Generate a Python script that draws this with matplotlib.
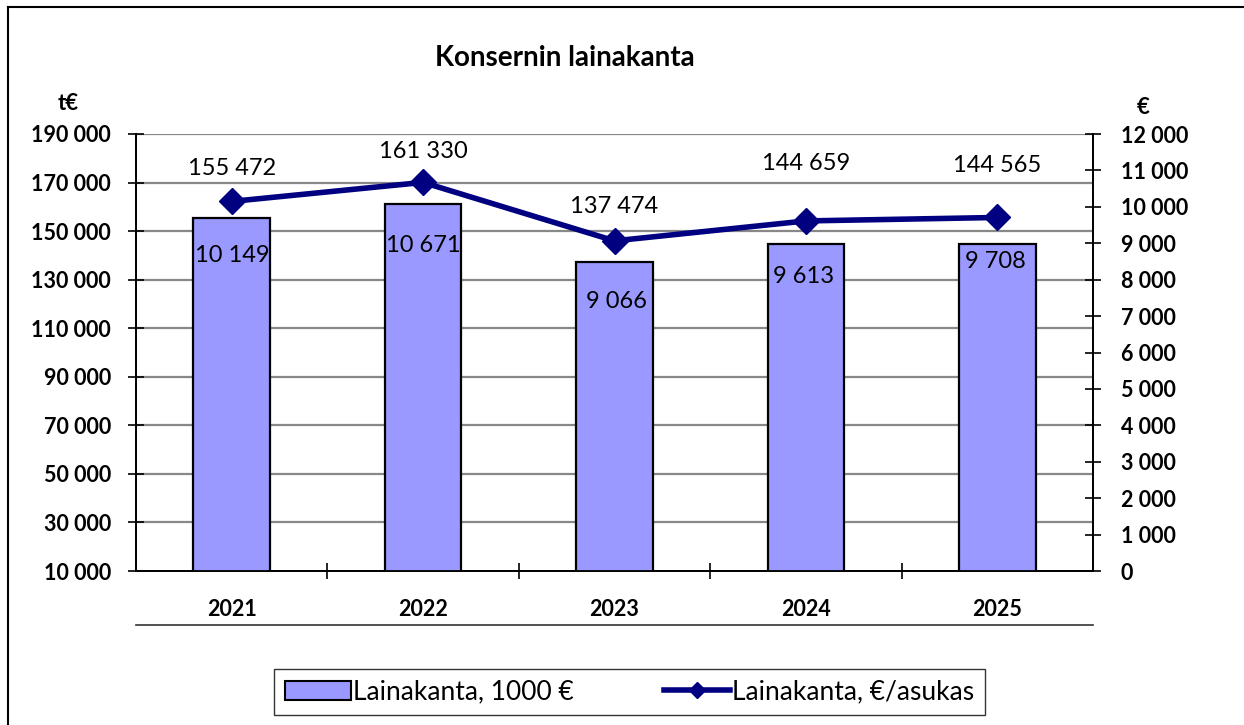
import matplotlib
matplotlib.use("Agg")
import matplotlib.pyplot as plt
from matplotlib.lines import Line2D
from matplotlib.patches import Patch
import numpy as np

plt.rcParams['font.family'] = ['Lato', 'DejaVu Sans']

years = ['2021', '2022', '2023', '2024', '2025']
loans_keur = [155472, 161330, 137474, 144659, 144565]
loans_per_capita = [10149, 10671, 9066, 9613, 9708]
left_ticks = list(range(10000, 190001, 20000))
right_ticks = list(range(0, 12001, 1000))

# label offsets (pixels) relative to line markers
bar_label_off = [(0, 33), (0, 31), (0, 34), (0, 57), (0, 52)]
line_label_off = [(1, -54), (0, -63), (2, -61), (-2, -56), (-2, -44)]

def fmt(v):
    return f"{v:,}".replace(",", " ")

W, H = 1244, 725
fig = plt.figure(figsize=(W / 100, H / 100), dpi=100)
ax = fig.add_axes([136 / W, 1 - 571 / H, (1093 - 136) / W, (571 - 134) / H])
ax2 = ax.twinx()

TICK_FS = 15.5

x = np.arange(len(years))
ax.bar(x, loans_keur, width=0.40, bottom=0, color='#9999FF', edgecolor='black',
       linewidth=1.6, zorder=3)
ax.set_ylim(10000, 190000)
ax.set_xlim(-0.5, len(years) - 0.5)
ax.set_yticks(left_ticks)
ax.set_yticklabels([fmt(v) for v in left_ticks], fontsize=TICK_FS, fontweight='bold')
for yv in left_ticks[1:]:
    ax.axhline(yv, color='#888888', linewidth=1.6, zorder=1)
ax.tick_params(axis='y', direction='inout', length=12, width=1.2, pad=12)

ax.set_xticks(x)
ax.set_xticklabels(years, fontsize=TICK_FS, fontweight='bold')
ax.tick_params(axis='x', which='major', length=0, pad=20)
ax.set_xticks(np.arange(-0.5, len(years), 1.0)[1:-1], minor=True)
ax.tick_params(axis='x', which='minor', direction='inout', length=12, width=1.2)

for s in ['top']:
    ax.spines[s].set_visible(False)
    ax2.spines[s].set_visible(False)
for s in ['left', 'bottom', 'right']:
    ax.spines[s].set_linewidth(1.3)
    ax2.spines[s].set_linewidth(1.3)

ax2.plot(x, loans_per_capita, color='#000080', linewidth=4, marker='D',
         markersize=13, zorder=5)
ax2.set_ylim(0, 12000)
ax2.set_yticks(right_ticks)
ax2.set_yticklabels([fmt(v) for v in right_ticks], fontsize=TICK_FS, fontweight='bold')
ax2.tick_params(axis='y', direction='inout', length=12, width=1.2, pad=14)

for i in range(len(years)):
    ax2.annotate(fmt(loans_keur[i]), (x[i], loans_per_capita[i]),
                 xytext=bar_label_off[i], textcoords='offset pixels',
                 ha='center', va='center', fontsize=17, zorder=6)
    ax2.annotate(fmt(loans_per_capita[i]), (x[i], loans_per_capita[i]),
                 xytext=line_label_off[i], textcoords='offset pixels',
                 ha='center', va='center', fontsize=17, zorder=6)

fig.text(565 / W, 1 - 58 / H, 'Konsernin lainakanta', ha='center', va='center',
         fontsize=20, fontweight='bold')
fig.text(68 / W, 1 - 104 / H, 't€', ha='center', va='center', fontsize=16, fontweight='bold')
fig.text(1143 / W, 1 - 107 / H, '€', ha='center', va='center', fontsize=16, fontweight='bold')

# line below category labels
fig.add_artist(Line2D([136 / W, 1093 / W], [1 - 625 / H, 1 - 625 / H],
                      color='#333333', linewidth=1.2))
# outer border (top and left)
fig.add_artist(Line2D([8 / W, 1.0], [1 - 7 / H, 1 - 7 / H], color='black', linewidth=1.5))
fig.add_artist(Line2D([8 / W, 8 / W], [0, 1 - 7 / H], color='black', linewidth=1.5))

handles = [Patch(facecolor='#9999FF', edgecolor='black', linewidth=1.5),
           Line2D([0], [0], color='#000080', linewidth=4, marker='D', markersize=8)]
leg = fig.legend(handles, ['Lainakanta, 1000 €', 'Lainakanta, €/asukas'],
                 loc='center', bbox_to_anchor=(629.5 / W, 1 - 692 / H), ncol=2,
                 fontsize=19, frameon=True, fancybox=False, edgecolor='black',
                 handlelength=2.5, handletextpad=0.1, columnspacing=3.4,
                 borderpad=0.4)
leg.get_frame().set_linewidth(1.0)
leg.get_frame().set_boxstyle('square', pad=0.0)

fig.savefig('out.png', dpi=100)
